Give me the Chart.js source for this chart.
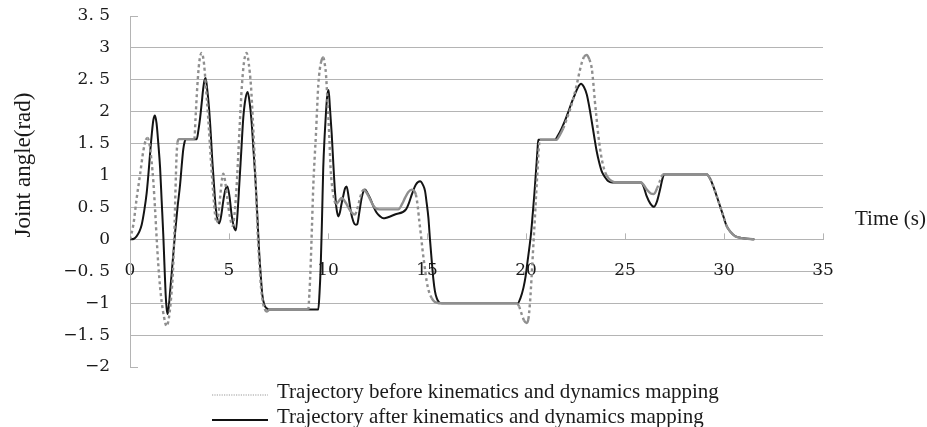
<!DOCTYPE html>
<html>
<head>
<meta charset="utf-8">
<script src="https://cdn.jsdelivr.net/npm/chart.js@4"></script>
<style>
html,body{margin:0;padding:0;background:#fff;}
#wrap{width:927px;height:427px;position:relative;}
</style>
</head>
<body>
<div id="wrap"><canvas id="c" width="927" height="427"></canvas></div>
<script>
// ---- data ----
const seriesNames = [
  'Trajectory before kinematics and dynamics mapping',
  'Trajectory after kinematics and dynamics mapping'
];
const xAxisTitle = 'Time (s)';
const yAxisTitle = 'Joint angle(rad)';
const xTickValues = [0, 5, 10, 15, 20, 25, 30, 35];
const yTickValues = [3.5, 3, 2.5, 2, 1.5, 1, 0.5, 0, -0.5, -1, -1.5, -2];

const timeBefore = [0,0.17,0.34,0.51,0.67,0.80,0.89,0.98,1.09,1.18,1.27,1.35,1.43,1.52,1.60,1.72,1.85,1.97,2.08,2.17,2.24,2.30,2.35,2.40,2.48,3.25,3.31,3.40,3.50,3.62,3.72,3.82,3.95,4.09,4.21,4.30,4.38,4.47,4.57,4.65,4.71,4.80,4.92,5.05,5.18,5.28,5.39,5.48,5.56,5.65,5.76,5.89,6.00,6.11,6.20,6.28,6.37,6.45,6.55,6.62,6.72,6.80,6.90,7.05,9.00,9.06,9.12,9.19,9.26,9.33,9.39,9.45,9.51,9.58,9.65,9.76,9.85,9.90,9.96,10.02,10.08,10.13,10.20,10.27,10.40,10.55,10.69,10.82,10.94,11.08,11.20,11.36,11.50,11.62,11.72,11.82,11.95,12.09,12.25,12.40,12.60,13.55,13.75,13.89,14.05,14.23,14.35,14.44,14.53,14.61,14.70,14.78,14.88,14.98,15.10,15.24,15.36,15.49,15.60,19.55,19.65,19.78,19.90,20.03,20.12,20.20,20.29,20.37,20.45,20.52,20.59,20.64,20.70,21.54,21.70,21.88,22.05,22.22,22.40,22.56,22.70,22.81,22.93,23.06,23.20,23.32,23.40,23.48,23.57,23.65,23.75,23.85,24.00,24.16,24.35,24.55,25.81,25.95,26.10,26.30,26.46,26.62,26.77,26.90,27.00,29.12,29.30,29.46,29.63,29.80,29.97,30.13,30.35,30.56,30.90,31.53];
const angleBefore = [0,0.23,0.65,1.02,1.38,1.56,1.59,1.50,1.22,0.90,0.45,0.00,-0.40,-0.75,-0.98,-1.22,-1.36,-1.22,-0.90,-0.50,0.10,0.80,1.30,1.52,1.57,1.57,1.90,2.40,2.78,2.92,2.80,2.45,1.90,1.22,0.70,0.38,0.26,0.40,0.72,0.95,1.03,0.92,0.62,0.35,0.21,0.40,0.86,1.40,1.90,2.40,2.78,2.92,2.75,2.40,1.90,1.38,0.72,0.08,-0.45,-0.76,-1.00,-1.09,-1.13,-1.10,-1.10,-0.85,-0.44,0.20,0.86,1.30,1.64,2.05,2.42,2.65,2.78,2.85,2.72,2.58,2.25,1.90,1.50,1.12,0.85,0.70,0.55,0.60,0.65,0.61,0.55,0.47,0.42,0.39,0.50,0.65,0.75,0.78,0.73,0.65,0.55,0.49,0.47,0.47,0.56,0.65,0.74,0.78,0.76,0.70,0.52,0.29,0.05,-0.18,-0.42,-0.65,-0.82,-0.92,-0.97,-0.99,-1.00,-1.00,-1.05,-1.17,-1.27,-1.31,-1.25,-1.00,-0.55,-0.10,0.34,0.75,1.12,1.40,1.56,1.56,1.63,1.74,1.88,2.03,2.22,2.42,2.62,2.76,2.86,2.89,2.82,2.68,2.45,2.16,1.88,1.64,1.40,1.22,1.05,0.96,0.91,0.89,0.89,0.85,0.78,0.72,0.71,0.80,0.92,1.01,1.02,1.02,0.95,0.83,0.68,0.52,0.36,0.21,0.11,0.05,0.02,0.00];

const timeAfter = [0,0.20,0.34,0.47,0.59,0.72,0.84,0.93,1.01,1.10,1.18,1.26,1.34,1.43,1.52,1.60,1.68,1.74,1.80,1.85,1.90,1.96,2.03,2.10,2.19,2.27,2.40,2.53,2.61,2.69,2.76,2.81,3.37,3.46,3.54,3.62,3.70,3.76,3.82,3.90,3.99,4.08,4.16,4.25,4.33,4.42,4.51,4.61,4.71,4.82,4.92,5.03,5.13,5.24,5.35,5.44,5.52,5.62,5.72,5.83,5.94,6.04,6.14,6.24,6.35,6.44,6.52,6.60,6.68,6.78,6.90,7.05,9.51,9.57,9.63,9.70,9.76,9.83,9.90,9.96,10.03,10.10,10.19,10.27,10.35,10.43,10.52,10.60,10.68,10.77,10.86,10.94,11.05,11.15,11.28,11.40,11.48,11.58,11.70,11.80,11.87,12.00,12.12,12.29,12.45,12.63,12.80,12.96,13.38,13.94,14.10,14.23,14.44,14.65,14.80,14.90,14.98,15.07,15.15,15.24,15.32,15.40,15.50,15.62,15.75,19.58,19.72,19.87,19.98,20.08,20.17,20.25,20.34,20.42,20.48,20.54,20.58,20.62,21.46,21.62,21.80,21.97,22.14,22.30,22.47,22.62,22.78,22.92,23.07,23.20,23.32,23.45,23.57,23.70,23.82,24.00,24.16,24.35,24.49,25.81,25.95,26.09,26.28,26.46,26.62,26.77,26.90,26.99,29.12,29.30,29.46,29.63,29.80,29.97,30.13,30.35,30.56,30.90,31.53];
const angleAfter = [0,0.01,0.05,0.12,0.23,0.45,0.72,1.02,1.33,1.65,1.87,1.94,1.82,1.50,1.12,0.60,0.08,-0.40,-0.86,-1.08,-1.17,-1.05,-0.80,-0.55,-0.22,0.08,0.50,0.86,1.15,1.41,1.53,1.57,1.57,1.72,1.90,2.13,2.37,2.49,2.53,2.35,2.06,1.65,1.22,0.82,0.49,0.31,0.25,0.38,0.60,0.78,0.83,0.66,0.39,0.20,0.14,0.45,0.86,1.38,1.90,2.20,2.31,2.15,1.85,1.38,0.86,0.32,-0.18,-0.55,-0.86,-1.02,-1.08,-1.10,-1.10,-0.85,-0.44,0.35,1.12,1.62,2.00,2.25,2.34,2.05,1.64,1.18,0.76,0.48,0.36,0.42,0.55,0.68,0.80,0.83,0.65,0.44,0.28,0.23,0.24,0.42,0.65,0.76,0.78,0.72,0.65,0.52,0.42,0.36,0.33,0.34,0.39,0.47,0.58,0.70,0.86,0.91,0.85,0.76,0.58,0.34,0.00,-0.34,-0.62,-0.81,-0.93,-0.99,-1.00,-1.00,-0.92,-0.76,-0.58,-0.34,-0.13,0.08,0.40,0.70,0.96,1.22,1.40,1.56,1.56,1.63,1.74,1.86,2.00,2.14,2.27,2.38,2.44,2.39,2.27,2.07,1.85,1.60,1.38,1.20,1.07,0.97,0.91,0.89,0.89,0.89,0.82,0.68,0.56,0.51,0.60,0.78,0.96,1.02,1.02,0.95,0.83,0.68,0.52,0.36,0.21,0.11,0.05,0.02,0.00];

// ---- helpers ----
function pairs(xs, ys) { return xs.map((x, i) => ({ x: x, y: ys[i] })); }
function fmtY(v) {
  let s = (Math.round(v * 10) % 10 !== 0) ? v.toFixed(1).replace('.', '. ') : String(Math.round(v));
  return s.replace('-', '\u2212');
}

const GRID = '#b4b4b4';
const TEXT = '#1a1a1a';
const SERIF = '"Liberation Serif", "Times New Roman", serif';

const decorPlugin = {
  id: 'decor',
  beforeDatasetsDraw(chart) {
    const ctx = chart.ctx, xs = chart.scales.x, ys = chart.scales.y;
    const y0 = ys.getPixelForValue(0);
    ctx.save();
    ctx.strokeStyle = GRID;
    ctx.lineWidth = 1;
    ctx.beginPath();
    xTickValues.forEach(v => {
      if (v === 0) return;
      const px = Math.round(xs.getPixelForValue(v)) + 0.5;
      ctx.moveTo(px, y0 - 6); ctx.lineTo(px, y0);
    });
    [yTickValues[0], yTickValues[yTickValues.length - 1]].forEach(v => {
      const py = Math.round(ys.getPixelForValue(v)) + 0.5;
      ctx.moveTo(xs.left, py); ctx.lineTo(xs.left + 8, py);
    });
    ctx.stroke();
    ctx.restore();
  },
  afterDraw(chart) {
    const ctx = chart.ctx;
    ctx.save();
    ctx.fillStyle = TEXT;
    // y title
    ctx.save();
    ctx.translate(24, 165);
    ctx.rotate(-Math.PI / 2);
    ctx.font = '23px ' + SERIF;
    ctx.textAlign = 'center';
    ctx.textBaseline = 'middle';
    ctx.fillText(yAxisTitle, 0, 0);
    ctx.restore();
    // x title
    ctx.font = '21px ' + SERIF;
    ctx.textAlign = 'left';
    ctx.textBaseline = 'alphabetic';
    ctx.fillText(xAxisTitle, 855, 224.5);
    // legend
    const ds = chart.data.datasets;
    const rows = [397.5, 422.5];
    ds.forEach((d, i) => {
      const by = rows[i];
      const ly = by - 2.5;
      ctx.save();
      ctx.beginPath();
      ctx.strokeStyle = i === 0 ? '#9a9a9a' : '#111';
      ctx.lineWidth = i === 0 ? 1.2 : 2;
      ctx.setLineDash(i === 0 ? [1.2, 1.2] : []);
      ctx.moveTo(212, ly); ctx.lineTo(268, ly);
      ctx.stroke();
      ctx.restore();
      ctx.fillText(d.label, 277, by);
    });
    ctx.restore();
  }
};

const steepDash = ctx => {
  const dx = Math.abs(ctx.p1.x - ctx.p0.x);
  const dy = Math.abs(ctx.p1.y - ctx.p0.y);
  return dy > 2.2 * dx ? [3, 3] : undefined;
};

new Chart(document.getElementById('c'), {
  type: 'line',
  data: {
    datasets: [
      {
        label: seriesNames[0],
        data: pairs(timeBefore, angleBefore),
        borderColor: '#8f8f8f',
        borderWidth: 2.4,
        pointRadius: 0,
        fill: false,
        cubicInterpolationMode: 'monotone',
        segment: { borderDash: steepDash }
      },
      {
        label: seriesNames[1],
        data: pairs(timeAfter, angleAfter),
        borderColor: '#141414',
        borderWidth: 2,
        pointRadius: 0,
        fill: false,
        cubicInterpolationMode: 'monotone'
      }
    ]
  },
  options: {
    responsive: false,
    animation: false,
    events: [],
    layout: { padding: { left: 0, top: 16, right: 104, bottom: 60 } },
    plugins: { legend: { display: false }, tooltip: { enabled: false }, title: { display: false } },
    scales: {
      x: {
        type: 'linear',
        min: xTickValues[0],
        max: xTickValues[xTickValues.length - 1],
        position: { y: 0 },
        afterBuildTicks: s => { s.ticks = xTickValues.map(v => ({ value: v })); },
        ticks: {
          padding: 21,
          color: TEXT,
          maxRotation: 0,
          autoSkip: false,
          font: { family: '"DejaVu Serif", serif', size: 17 },
          callback: v => String(v)
        },
        grid: { display: false, drawTicks: false },
        border: { display: true, color: GRID, width: 1 }
      },
      y: {
        type: 'linear',
        min: yTickValues[yTickValues.length - 1],
        max: yTickValues[0],
        afterBuildTicks: s => { s.ticks = yTickValues.slice().reverse().map(v => ({ value: v })); },
        afterFit: s => { s.width = 130; },
        ticks: {
          padding: 0,
          color: TEXT,
          font: { family: '"DejaVu Serif", serif', size: 17 },
          callback: v => fmtY(v)
        },
        grid: {
          drawTicks: true,
          tickLength: 20,
          tickColor: 'rgba(0,0,0,0)',
          lineWidth: 1,
          color: c => (c.tick && (c.tick.value === yTickValues[0] || c.tick.value === yTickValues[yTickValues.length - 1])) ? 'rgba(0,0,0,0)' : GRID
        },
        border: { display: true, color: GRID, width: 1 }
      }
    }
  },
  plugins: [decorPlugin]
});
</script>
</body>
</html>
